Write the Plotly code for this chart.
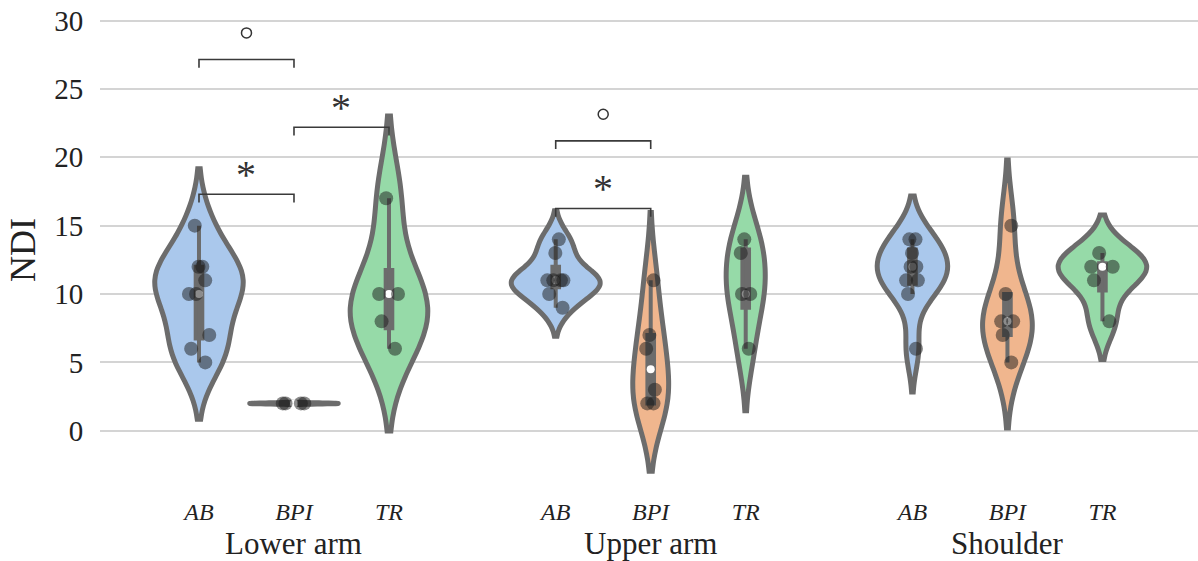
import numpy as np
import plotly.graph_objects as go

# ---- data -------------------------------------------------------------
regions = ["Lower arm", "Upper arm", "Shoulder"]
groups = ["AB", "BPI", "TR"]

lower_arm_ab = [15, 12, 12, 11, 10, 10, 7, 6, 5]
lower_arm_bpi = [2, 2, 2, 2]
lower_arm_tr = [17, 10, 10, 8, 6]
upper_arm_ab = [14, 13, 11, 11, 11, 11, 10, 9]
upper_arm_bpi = [11, 7, 6, 3, 2, 2]
upper_arm_tr = [14, 13, 10, 10, 6]
shoulder_ab = [14, 14, 13, 12, 12, 11, 11, 10, 6]
shoulder_bpi = [15, 10, 8, 8, 7, 5]
shoulder_tr = [13, 12, 12, 11, 8]

y_ticks = [0, 5, 10, 15, 20, 25, 30]

# significance brackets between two groups of one region
bracket_region = ["Lower arm", "Lower arm", "Lower arm", "Upper arm", "Upper arm"]
bracket_from = ["AB", "BPI", "AB", "AB", "AB"]
bracket_to = ["BPI", "TR", "BPI", "BPI", "BPI"]
bracket_height = [27.15, 22.2, 17.3, 21.2, 16.26]
bracket_mark = ["○", "*", "*", "○", "*"]

samples = {
    "Lower arm": {"AB": lower_arm_ab, "BPI": lower_arm_bpi, "TR": lower_arm_tr},
    "Upper arm": {"AB": upper_arm_ab, "BPI": upper_arm_bpi, "TR": upper_arm_tr},
    "Shoulder": {"AB": shoulder_ab, "BPI": shoulder_bpi, "TR": shoulder_tr},
}

# ---- style ------------------------------------------------------------
REGION_STEP = 3.755
VIOLIN_WIDTH = 0.93
BOX_FRACTION = 0.075
OUTLINE = "#6c6c6c"
FILLS = {"AB": "#aac8ec", "BPI": "#f0b68e", "TR": "#96daa8"}
GRID = "#d4d4d4"
FRAME = "#cccccc"
TEXT = "#222222"
FONT = "Liberation Serif"


def position(region, group):
    return regions.index(region) * REGION_STEP + groups.index(group)


def scott_bandwidth(vals):
    sd = vals.std(ddof=1)
    return sd * len(vals) ** (-1 / 5) if sd > 0 else 0.0


def peak_density(vals, bw):
    grid = np.linspace(vals.min() - 2 * bw, vals.max() + 2 * bw, 400)
    z = (grid[:, None] - vals[None, :]) / bw
    dens = np.exp(-0.5 * z ** 2).sum(axis=1) / (len(vals) * bw * np.sqrt(2 * np.pi))
    return dens.max()


# violins of one region share equal area: the densest one gets full width
widths = {}
for region in regions:
    peaks = {}
    for group in groups:
        vals = np.asarray(samples[region][group], dtype=float)
        bw = scott_bandwidth(vals)
        if bw > 0:
            peaks[group] = peak_density(vals, bw)
    top = max(peaks.values())
    for group in groups:
        widths[(region, group)] = VIOLIN_WIDTH * peaks.get(group, top) / top

fig = go.Figure()

for region in regions:
    for group in groups:
        vals = np.asarray(samples[region][group], dtype=float)
        pos = position(region, group)
        bw = scott_bandwidth(vals)
        if bw == 0:
            bw = 0.04  # constant sample collapses to a flat line
        w = widths[(region, group)]
        key = f"{region}-{group}"

        fig.add_trace(go.Violin(
            x0=pos, y=vals, width=w, bandwidth=bw,
            scalegroup=key, scalemode="width", spanmode="soft",
            fillcolor=FILLS[group], opacity=1,
            line=dict(color=OUTLINE, width=5),
            box=dict(visible=True, width=BOX_FRACTION * VIOLIN_WIDTH / w,
                     fillcolor=OUTLINE, line=dict(color=OUTLINE, width=4)),
            meanline=dict(visible=False), points=False,
            hoverinfo="skip", showlegend=False, zorder=0,
        ))

        fig.add_trace(go.Scatter(
            x=[pos], y=[float(np.median(vals))], mode="markers",
            marker=dict(color="white", size=8, line=dict(width=0)),
            hoverinfo="skip", showlegend=False, zorder=1,
        ))

        fig.add_trace(go.Violin(
            x0=pos, y=vals, width=w, bandwidth=bw,
            scalegroup=key, scalemode="width", spanmode="soft",
            fillcolor="rgba(0,0,0,0)", line=dict(color="rgba(0,0,0,0)", width=0),
            box=dict(visible=False), meanline=dict(visible=False),
            points="all", pointpos=0, jitter=0.3,
            marker=dict(color="rgba(25,25,25,0.5)", size=14, line=dict(width=0)),
            hoverinfo="skip", showlegend=False, zorder=2,
        ))

# significance brackets
TICK_DROP = 0.6
for region, g_a, g_b, h, mark in zip(bracket_region, bracket_from, bracket_to,
                                     bracket_height, bracket_mark):
    xa, xb = position(region, g_a), position(region, g_b)
    fig.add_trace(go.Scatter(
        x=[xa, xa, xb, xb], y=[h - TICK_DROP, h, h, h - TICK_DROP],
        mode="lines", line=dict(color="#3a3a3a", width=1.6),
        hoverinfo="skip", showlegend=False, zorder=3,
    ))
    xm = (xa + xb) / 2
    if mark == "○":
        fig.add_trace(go.Scatter(
            x=[xm], y=[h + 1.95], mode="markers",
            marker=dict(symbol="circle-open", size=10, color="#333333",
                        line=dict(width=1.5)),
            hoverinfo="skip", showlegend=False, zorder=3,
        ))
    else:
        fig.add_annotation(
            x=xm, y=h + 1.8, text=mark, showarrow=False,
            font=dict(family=FONT, size=40, color="#333333"),
            yanchor="middle", yshift=-5,
        )

# region labels under the group ticks
for region in regions:
    fig.add_annotation(
        x=position(region, "BPI"), y=-0.113, xref="x", yref="paper",
        text=region, showarrow=False, yanchor="middle",
        font=dict(family=FONT, size=31, color=TEXT),
    )

tick_pos = [position(r, g) for r in regions for g in groups]
tick_txt = [f"<i>{g}</i>" for r in regions for g in groups]

fig.update_layout(
    width=1198, height=561,
    margin=dict(l=100, r=0, t=11, b=72),
    plot_bgcolor="white", paper_bgcolor="white",
    violinmode="overlay", showlegend=False,
    font=dict(family=FONT, color=TEXT, size=24),
)
fig.update_xaxes(
    range=[-1.042, 10.516], tickvals=tick_pos, ticktext=tick_txt,
    tickfont=dict(size=24), showgrid=False, zeroline=False, ticks="",
    showline=True, linecolor=FRAME, linewidth=2, mirror=True,
)
fig.update_yaxes(
    range=[-4.26, 30.7], tickvals=y_ticks, ticks="",
    tickfont=dict(size=29), showgrid=True, gridcolor=GRID, gridwidth=2,
    zeroline=False, showline=True, linecolor=FRAME, linewidth=2,
    ticklabelstandoff=9,
    title=dict(text="NDI", font=dict(size=36), standoff=8),
)

fig.write_html("out.html")
